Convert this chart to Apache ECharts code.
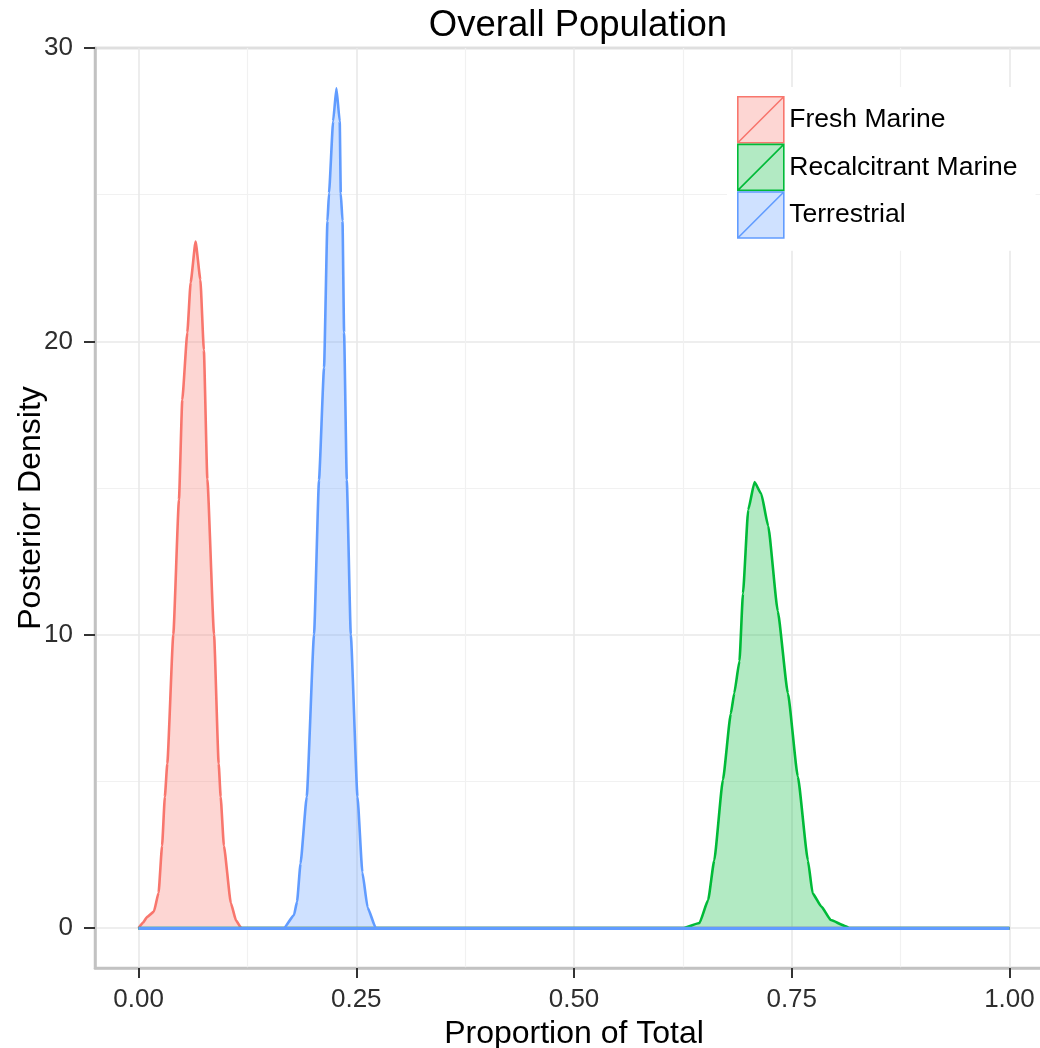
<!DOCTYPE html>
<html>
<head>
<meta charset="utf-8">
<title>Overall Population</title>
<script src="https://cdn.jsdelivr.net/npm/echarts@6/dist/echarts.min.js"></script>
<style>
  html, body { margin: 0; padding: 0; background: #ffffff; }
  #chart { width: 1040px; height: 1048px; }
</style>
</head>
<body>
<div id="chart"></div>
<script>
// Posterior density of each source's proportion of the total
const seriesNames = ['Fresh Marine', 'Recalcitrant Marine', 'Terrestrial'];
const lineColors = ['#F8766D', '#00BA38', '#619CFF'];
const fillColors = ['rgba(248,118,109,0.3)', 'rgba(0,186,56,0.3)', 'rgba(97,156,255,0.3)'];

const freshX = [0, 0.005, 0.010, 0.0176, 0.023, 0.027, 0.0302, 0.033, 0.0399, 0.0464, 0.0502, 0.056, 0.0598, 0.0655, 0.071, 0.075, 0.079, 0.0867, 0.092, 0.0943, 0.098, 0.106, 0.112, 0.118, 1.0];
const freshY = [0, 0.18, 0.38, 0.56, 1.2, 2.8, 4.47, 5.6, 10.0, 14.6, 18.0, 20.3, 22.0, 23.4, 22.1, 19.7, 15.3, 10.0, 5.6, 4.47, 2.8, 0.85, 0.25, 0, 0];

const recalcX = [0, 0.626, 0.644, 0.654, 0.661, 0.671, 0.680, 0.684, 0.690, 0.694, 0.700, 0.7073, 0.715, 0.723, 0.734, 0.7456, 0.757, 0.7686, 0.774, 0.784, 0.795, 0.811, 0.816, 1.0];
const recalcY = [0, 0, 0.17, 0.95, 2.3, 5.05, 7.3, 8.0, 9.1, 11.4, 14.25, 15.2, 14.8, 13.7, 10.8, 8.0, 5.16, 2.3, 1.18, 0.73, 0.27, 0.07, 0, 0];

const terrX = [0, 0.167, 0.1785, 0.182, 0.186, 0.1931, 0.2015, 0.2072, 0.213, 0.2169, 0.2187, 0.2234, 0.2272, 0.2310, 0.2322, 0.2342, 0.236, 0.2391, 0.2437, 0.2514, 0.257, 0.263, 0.2724, 1.0];
const terrY = [0, 0, 0.44, 0.9, 2.2, 4.47, 10.0, 15.27, 19.1, 24.1, 25.05, 27.5, 28.63, 27.5, 25.05, 24.1, 20.3, 15.27, 10.0, 4.47, 1.9, 0.7, 0, 0];

const xMajorTicks = [0, 0.25, 0.5, 0.75, 1.0];
const xMinorTicks = [0.125, 0.375, 0.625, 0.875];
const yMajorTicks = [0, 10, 20, 30];
const yMinorTicks = [5, 15, 25];

const X_MIN = -0.05, X_MAX = 1.05;
const Y_MIN = -1.364, Y_MAX = 30;

const FONT = '"Liberation Sans", Arial, Helvetica, sans-serif';
const AXIS_GREY = '#c2c2c2';
const MAJOR_GRID = '#e9e9e9';
const MINOR_GRID = '#f1f1f1';
const TICK_TEXT = '#2e2e2e';

function zip(xs, ys) { return xs.map((x, i) => [x, ys[i]]); }
const seriesData = [zip(freshX, freshY), zip(recalcX, recalcY), zip(terrX, terrY)];
const densityDomain = [freshX[0], freshX[freshX.length - 1]];

const chart = echarts.init(document.getElementById('chart'), null, { renderer: 'canvas' });

const option = {
  backgroundColor: '#ffffff',
  animation: false,
  title: {
    text: 'Overall Population',
    left: 573,
    top: 2,
    textAlign: 'center',
    textStyle: { fontFamily: FONT, fontSize: 36.5, fontWeight: 'normal', color: '#000000' }
  },
  legend: {
    orient: 'vertical',
    left: 727,
    top: 87,
    padding: [9, 18, 12, 10],
    backgroundColor: '#ffffff',
    itemWidth: 47,
    itemHeight: 46,
    itemGap: 0,
    selectedMode: false,
    textStyle: { fontFamily: FONT, fontSize: 26.5, color: '#000000' },
    data: seriesNames.map((name, i) => ({
      name: name,
      icon: 'path://M0,0L46,0L46,46L0,46Z M0,46L46,0',
      itemStyle: { color: fillColors[i], borderColor: lineColors[i], borderWidth: 1.6 }
    }))
  },
  grid: {
    left: 95,
    right: -13,
    top: 48,
    bottom: 80,
    outerBoundsMode: 'none',
    containLabel: false,
    show: true,
    backgroundColor: '#ffffff',
    borderColor: AXIS_GREY,
    borderWidth: 2.5
  },
  xAxis: [
    {
      type: 'value',
      min: X_MIN,
      max: X_MAX,
      position: 'bottom',
      name: 'Proportion of Total',
      nameLocation: 'middle',
      nameGap: 46,
      nameTextStyle: { fontFamily: FONT, fontSize: 32, color: '#000000' },
      axisLine: { show: true, onZero: false, lineStyle: { color: AXIS_GREY, width: 2.5 } },
      axisTick: { show: true, length: 10, customValues: xMajorTicks, lineStyle: { color: '#333333', width: 2 } },
      axisLabel: {
        show: true, customValues: xMajorTicks, margin: 19,
        fontFamily: FONT, fontSize: 26, color: TICK_TEXT,
        formatter: v => v.toFixed(2)
      },
      splitLine: { show: true, lineStyle: { color: MAJOR_GRID, width: 1.6 } }
    },
    {
      type: 'value',
      min: X_MIN,
      max: X_MAX,
      position: 'bottom',
      axisLine: { show: false },
      axisTick: { show: false, customValues: xMinorTicks },
      axisLabel: { show: false, customValues: xMinorTicks },
      splitLine: { show: true, lineStyle: { color: MINOR_GRID, width: 1.2 } }
    }
  ],
  yAxis: [
    {
      type: 'value',
      min: Y_MIN,
      max: Y_MAX,
      position: 'left',
      name: 'Posterior Density',
      nameLocation: 'middle',
      nameGap: 48,
      nameMoveOverlap: false,
      nameTextStyle: { fontFamily: FONT, fontSize: 32, color: '#000000' },
      axisLine: { show: true, onZero: false, lineStyle: { color: AXIS_GREY, width: 2.5 } },
      axisTick: { show: true, length: 11, customValues: yMajorTicks, lineStyle: { color: '#333333', width: 2 } },
      axisLabel: {
        show: true, customValues: yMajorTicks, margin: 22,
        fontFamily: FONT, fontSize: 26, color: TICK_TEXT
      },
      splitLine: { show: true, lineStyle: { color: MAJOR_GRID, width: 1.6 } }
    },
    {
      type: 'value',
      min: Y_MIN,
      max: Y_MAX,
      position: 'left',
      axisLine: { show: false },
      axisTick: { show: false, customValues: yMinorTicks },
      axisLabel: { show: false, customValues: yMinorTicks },
      splitLine: { show: true, lineStyle: { color: MINOR_GRID, width: 1.2 } }
    }
  ],
  series: seriesNames.map((name, i) => ({
    name: name,
    type: 'line',
    xAxisIndex: 0,
    yAxisIndex: 0,
    data: seriesData[i],
    showSymbol: false,
    symbol: 'none',
    smooth: 0.15,
    smoothMonotone: 'x',
    color: lineColors[i],
    lineStyle: { color: lineColors[i], width: 2.6 },
    areaStyle: { color: fillColors[i], opacity: 1, origin: 0 },
    z: 2 + i,
    // closing edge of each density polygon along zero
    markLine: {
      silent: true,
      symbol: 'none',
      label: { show: false },
      lineStyle: { color: lineColors[i], width: 3, type: 'solid' },
      data: [[{ coord: [densityDomain[0], 0] }, { coord: [densityDomain[1], 0] }]]
    }
  }))
};

chart.setOption(option);
</script>
</body>
</html>
